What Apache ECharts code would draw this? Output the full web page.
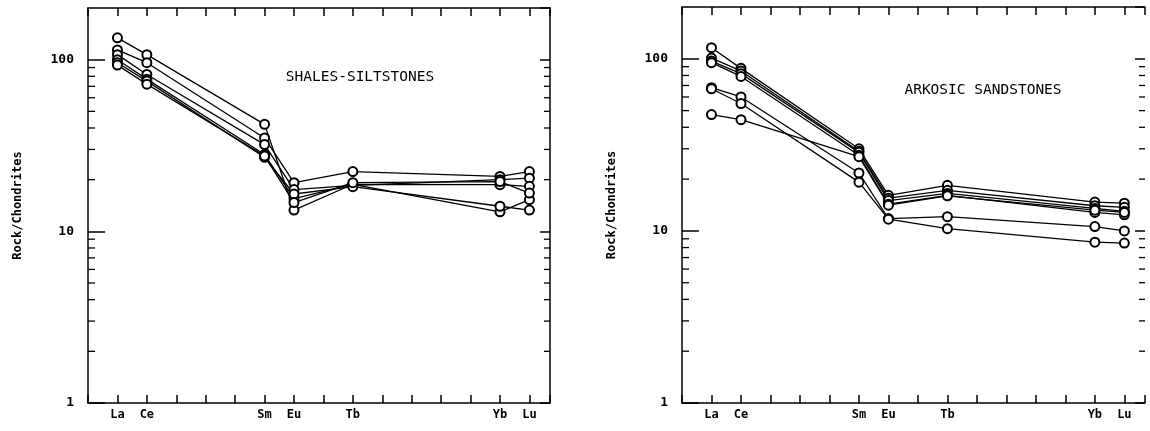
<!DOCTYPE html>
<html>
<head>
<meta charset="utf-8">
<script src="https://cdn.jsdelivr.net/npm/echarts@6/dist/echarts.min.js"></script>
<style>
    html, body { margin: 0; padding: 0; background: #fff; }
    #echart { width: 1150px; height: 431px; }
</style>
</head>
<body>
<div id="echart"></div>
<script>
// REE order, La..Lu, one tick each
const elementNames = ['La', 'Ce', 'Pr', 'Nd', 'Pm', 'Sm', 'Eu', 'Gd', 'Tb', 'Dy', 'Ho', 'Er', 'Tm', 'Yb', 'Lu'];
const shownLabels = ['La', 'Ce', 'Sm', 'Eu', 'Tb', 'Yb', 'Lu'];
const analysedIdx = [0, 1, 5, 6, 8, 13, 14];   // La Ce Sm Eu Tb Yb Lu
const minorTickValues = [2, 3, 4, 5, 6, 7, 8, 9, 20, 30, 40, 50, 60, 70, 80, 90];

// shales-siltstones, values La Ce Sm Eu Tb Yb Lu
const shale1 = [134, 107, 42, 13.3, 18.8, 13.0, 15.3];
const shale2 = [114, 96, 35, 19.2, 22.3, 20.9, 22.3];
const shale3 = [107, 82, 32, 17.5, 18.5, 20.0, 20.4];
const shale4 = [100, 77, 28, 15.5, 18.8, 18.7, 18.3];
const shale5 = [96, 75, 27, 16.5, 18.2, 14.0, 13.3];
const shale6 = [93, 72, 27.5, 14.7, 19.2, 19.5, 16.7];

// arkosic sandstones
const arkose1 = [116, 88, 30, 16.1, 18.4, 14.7, 14.5];
const arkose2 = [101, 85, 29, 15.5, 17.2, 14.0, 13.7];
const arkose3 = [97, 82, 28.6, 15.0, 16.5, 13.5, 13.0];
const arkose4 = [95, 79, 27.5, 14.3, 16.1, 12.8, 12.4];
const arkose5 = [68, 60, 21.7, 11.8, 12.1, 10.6, 10.0];
const arkose6 = [67, 55, 19.2, 11.7, 10.3, 8.6, 8.5];
const arkose7 = [47.4, 44.3, 27, 14.1, 16.0, 13.2, 12.8];

const X_MIN = -1, X_MAX = 14.7;
const FONT = 'DejaVu Sans Mono';

function toPoints(values) {
    return values.map(function (v, i) {
        return [analysedIdx[i], v];
    });
}

function sampleSeries(values, gridIdx) {
    return {
        type: 'line',
        xAxisIndex: gridIdx * 2,
        yAxisIndex: gridIdx * 2,
        data: toPoints(values),
        symbol: 'circle',
        symbolSize: 9,
        lineStyle: {color: '#000', width: 1.3},
        itemStyle: {color: '#fff', borderColor: '#000', borderWidth: 2},
        emphasis: {disabled: true},
        z: 3
    };
}

function minorTickSeries(gridIdx) {
    return {
        type: 'custom',
        xAxisIndex: gridIdx * 2,
        yAxisIndex: gridIdx * 2,
        data: minorTickValues.map(function (v) { return [X_MIN, v]; }),
        clip: false,
        silent: true,
        renderItem: function (params, api) {
            const v = api.value(1);
            const pl = api.coord([X_MIN, v]);
            const pr = api.coord([X_MAX, v]);
            const st = {stroke: '#000', lineWidth: 1.3};
            return {
                type: 'group',
                children: [
                    {type: 'line', shape: {x1: pl[0], y1: pl[1], x2: pl[0] + 7, y2: pl[1]}, style: st},
                    {type: 'line', shape: {x1: pr[0], y1: pr[1], x2: pr[0] - 6, y2: pr[1]}, style: st}
                ]
            };
        }
    };
}

function xLabel(v) {
    const i = Math.round(v);
    if (Math.abs(v - i) > 1e-6 || i < 0 || i >= elementNames.length) return '';
    return shownLabels.indexOf(elementNames[i]) >= 0 ? elementNames[i] : '';
}

function xAxes(gridIdx) {
    const base = {
        type: 'value', gridIndex: gridIdx, min: X_MIN, max: X_MAX, interval: 1,
        splitLine: {show: false},
        axisLine: {onZero: false, lineStyle: {color: '#000', width: 1.5}},
        axisTick: {inside: true, length: 8, lineStyle: {color: '#000', width: 1.5}}
    };
    return [
        Object.assign({}, base, {
            position: 'bottom',
            axisLabel: {formatter: xLabel, color: '#000', fontFamily: FONT, fontWeight: 'bold', fontSize: 12, margin: 6}
        }),
        Object.assign({}, base, {position: 'top', axisLabel: {show: false}})
    ];
}

function yAxes(gridIdx, rightLine) {
    const base = {
        type: 'log', logBase: 10, gridIndex: gridIdx, min: 1, max: 200,
        splitLine: {show: false}
    };
    return [
        Object.assign({}, base, {
            position: 'left',
            name: 'Rock/Chondrites',
            nameLocation: 'middle',
            nameGap: 64,
            nameTextStyle: {color: '#000', fontFamily: FONT, fontWeight: 'bold', fontSize: 12},
            axisLine: {onZero: false, lineStyle: {color: '#000', width: 1.5}},
            axisTick: {inside: true, length: 17, lineStyle: {color: '#000', width: 1.5}},
            axisLabel: {color: '#000', fontFamily: FONT, fontWeight: 'bold', fontSize: 13, margin: 14, showMaxLabel: false}
        }),
        Object.assign({}, base, {
            position: 'right',
            axisLine: {show: rightLine, onZero: false, lineStyle: {color: '#000', width: 1.5}},
            axisTick: {show: true, inside: true, length: 10, lineStyle: {color: '#000', width: 1.5}},
            axisLabel: {show: false}
        })
    ];
}

const titleStyle = {color: '#000', fontFamily: FONT, fontWeight: 'normal', fontSize: 14.5};

var option = {
    animation: false,
    backgroundColor: '#fff',
    title: [
        {text: 'SHALES-SILTSTONES', left: 355, top: 65, textAlign: 'center', textStyle: titleStyle},
        {text: 'ARKOSIC SANDSTONES', left: 978, top: 78, textAlign: 'center', textStyle: titleStyle}
    ],
    grid: [
        {left: 88, top: 8, width: 462, height: 395},
        {left: 682, top: 7, width: 463, height: 396}
    ],
    xAxis: xAxes(0).concat(xAxes(1)),
    yAxis: yAxes(0, true).concat(yAxes(1, false)),
    series: [
        minorTickSeries(0),
        minorTickSeries(1),
        sampleSeries(shale1, 0),
        sampleSeries(shale2, 0),
        sampleSeries(shale3, 0),
        sampleSeries(shale4, 0),
        sampleSeries(shale5, 0),
        sampleSeries(shale6, 0),
        sampleSeries(arkose1, 1),
        sampleSeries(arkose2, 1),
        sampleSeries(arkose3, 1),
        sampleSeries(arkose4, 1),
        sampleSeries(arkose5, 1),
        sampleSeries(arkose6, 1),
        sampleSeries(arkose7, 1)
    ]
};

var chart = echarts.init(document.getElementById('echart'));
chart.setOption(option);
</script>
</body>
</html>
